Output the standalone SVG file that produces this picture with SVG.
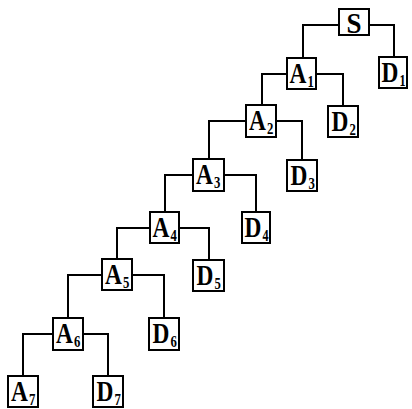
<svg xmlns="http://www.w3.org/2000/svg" width="412" height="409" viewBox="0 0 412 409">
<style>
.b{fill:#fff;stroke:#000;stroke-width:2}
.c{fill:none;stroke:#000;stroke-width:2}
.t{font-family:"Liberation Serif","Times New Roman",serif;font-weight:bold;font-size:30px;fill:#000}
.s{font-family:"Liberation Serif","Times New Roman",serif;font-weight:bold;font-size:17px;fill:#000}
</style>
<rect width="412" height="409" fill="#fff"/>
<g id="connectors">
<path class="c" d="M339,25H303V58M369,25H394V57"/>
<path class="c" d="M287,74H262V105M316,74H343V106"/>
<path class="c" d="M246,121H209V159M276,121H302V160"/>
<path class="c" d="M193,175H165V212M224,175H256V212"/>
<path class="c" d="M150,228H117V259M179,228H209V260"/>
<path class="c" d="M102,275H68V318M132,275H164V318"/>
<path class="c" d="M53,334H23V376M83,334H108V376"/>
</g>
<g id="S"><rect class="b" x="339" y="9" width="30" height="26"/><text class="t" transform="translate(346.5,33) scale(0.9,1)">S</text></g>
<g id="A1"><rect class="b" x="287" y="58" width="29" height="31"/><text class="t" transform="translate(289.5,82.5) scale(0.78,1)">A</text><text class="s" transform="translate(307.5,86.5) scale(0.75,1)">1</text></g>
<g id="D1"><rect class="b" x="379" y="57" width="28" height="31"/><text class="t" transform="translate(381.5,81.5) scale(0.78,1)">D</text><text class="s" transform="translate(399.5,85.5) scale(0.72,1)">1</text></g>
<g id="A2"><rect class="b" x="246" y="105" width="30" height="32"/><text class="t" transform="translate(249,130) scale(0.78,1)">A</text><text class="s" transform="translate(267,134) scale(0.75,1)">2</text></g>
<g id="D2"><rect class="b" x="328" y="106" width="30" height="31"/><text class="t" transform="translate(331.5,130.5) scale(0.78,1)">D</text><text class="s" transform="translate(349.5,134.5) scale(0.75,1)">2</text></g>
<g id="A3"><rect class="b" x="193" y="159" width="31" height="32"/><text class="t" transform="translate(196,183.5) scale(0.78,1)">A</text><text class="s" transform="translate(214,187.5) scale(0.75,1)">3</text></g>
<g id="D3"><rect class="b" x="287" y="160" width="30" height="31"/><text class="t" transform="translate(290.5,184.5) scale(0.78,1)">D</text><text class="s" transform="translate(308.5,188.5) scale(0.75,1)">3</text></g>
<g id="A4"><rect class="b" x="150" y="212" width="29" height="31"/><text class="t" transform="translate(152.5,236.5) scale(0.78,1)">A</text><text class="s" transform="translate(170.5,240.5) scale(0.75,1)">4</text></g>
<g id="D4"><rect class="b" x="242" y="212" width="28" height="31"/><text class="t" transform="translate(244.5,236.5) scale(0.78,1)">D</text><text class="s" transform="translate(262.5,240.5) scale(0.72,1)">4</text></g>
<g id="A5"><rect class="b" x="102" y="259" width="30" height="31"/><text class="t" transform="translate(105,283.5) scale(0.78,1)">A</text><text class="s" transform="translate(123,287.5) scale(0.75,1)">5</text></g>
<g id="D5"><rect class="b" x="193" y="260" width="31" height="31"/><text class="t" transform="translate(196.5,284.5) scale(0.78,1)">D</text><text class="s" transform="translate(214.5,288.5) scale(0.75,1)">5</text></g>
<g id="A6"><rect class="b" x="53" y="318" width="30" height="32"/><text class="t" transform="translate(56,343) scale(0.78,1)">A</text><text class="s" transform="translate(74,347) scale(0.75,1)">6</text></g>
<g id="D6"><rect class="b" x="149" y="318" width="30" height="32"/><text class="t" transform="translate(152.5,343) scale(0.78,1)">D</text><text class="s" transform="translate(170.5,347) scale(0.75,1)">6</text></g>
<g id="A7"><rect class="b" x="8" y="376" width="30" height="31"/><text class="t" transform="translate(11,400.5) scale(0.78,1)">A</text><text class="s" transform="translate(29,404.5) scale(0.75,1)">7</text></g>
<g id="D7"><rect class="b" x="93" y="376" width="30" height="31"/><text class="t" transform="translate(96.5,400.5) scale(0.78,1)">D</text><text class="s" transform="translate(114.5,404.5) scale(0.75,1)">7</text></g>
</svg>
